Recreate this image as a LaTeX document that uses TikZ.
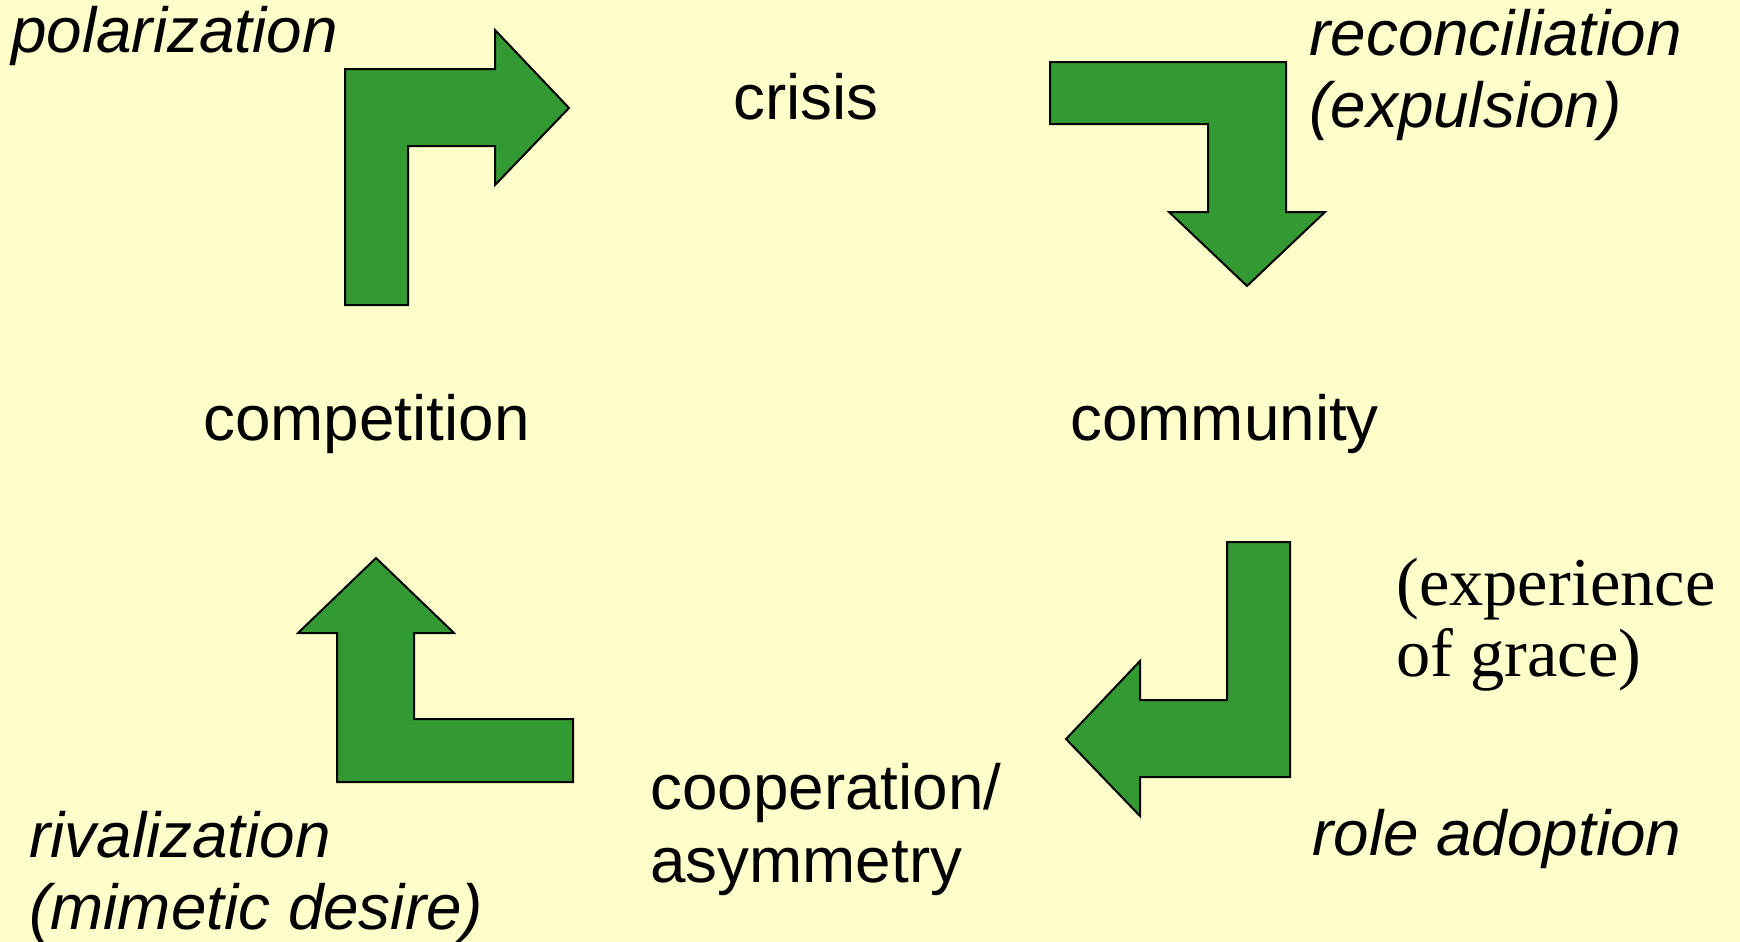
\documentclass[tikz,border=0pt]{standalone}
\usepackage{fontspec}
\setmainfont{Liberation Serif}
\setsansfont{Liberation Sans}
\definecolor{paper}{HTML}{FFFFCC}
\definecolor{leafgreen}{HTML}{339933}
\begin{document}
\begin{tikzpicture}[x=0.5pt,y=-0.5pt,
  bentarrow/.style={fill=leafgreen, draw=black, line width=1pt, line join=miter},
  stage/.style={anchor=base west, inner sep=0pt, align=left,
    font=\sffamily\fontsize{31.9}{36.5}\selectfont},
  process/.style={stage, font=\sffamily\itshape\fontsize{31.9}{36}\selectfont},
  remark/.style={anchor=base west, inner sep=0pt, align=left,
    font=\rmfamily\fontsize{34.2}{35.5}\selectfont}]

  % page background and fixed frame
  \useasboundingbox (0,0) rectangle (1740,942);
  \fill[paper] (0,0) rectangle (1740,942);

  % bent block arrows of the cycle
  \draw[bentarrow] (345,305) -- (345,69) -- (495,69) -- (495,30) -- (569,108)
    -- (495,185) -- (495,146) -- (408,146) -- (408,305) -- cycle;
  \draw[bentarrow] (1050,62) -- (1286,62) -- (1286,212) -- (1325,212) -- (1247,286)
    -- (1169,212) -- (1208,212) -- (1208,124) -- (1050,124) -- cycle;
  \draw[bentarrow] (1227,542) -- (1290,542) -- (1290,777) -- (1140,777) -- (1140,816)
    -- (1066,739) -- (1140,661) -- (1140,700) -- (1227,700) -- cycle;
  \draw[bentarrow] (376,558) -- (454,633) -- (414,633) -- (414,719) -- (573,719)
    -- (573,782) -- (337,782) -- (337,633) -- (298,633) -- cycle;

  % stages (multi-line nodes are placed at the baseline of their last line)
  \node[stage] (crisis) at (733,119) {crisis};
  \node[stage] (community) at (1070,440) {community};
  \node[stage] (cooperation) at (650,882) {cooperation/\\asymmetry};
  \node[stage] (competition) at (203,440) {competition};

  % transitions
  \node[process] (polarization) at (11,52) {polarization};
  \node[process] (reconciliation) at (1309,127) {reconciliation\\(expulsion)};
  \node[process] (roleadoption) at (1312,855) {role adoption};
  \node[process] (rivalization) at (29,929) {rivalization\\(mimetic desire)};
  \node[remark] (grace) at (1396,676) {(experience\\of grace)};
\end{tikzpicture}
\end{document}
